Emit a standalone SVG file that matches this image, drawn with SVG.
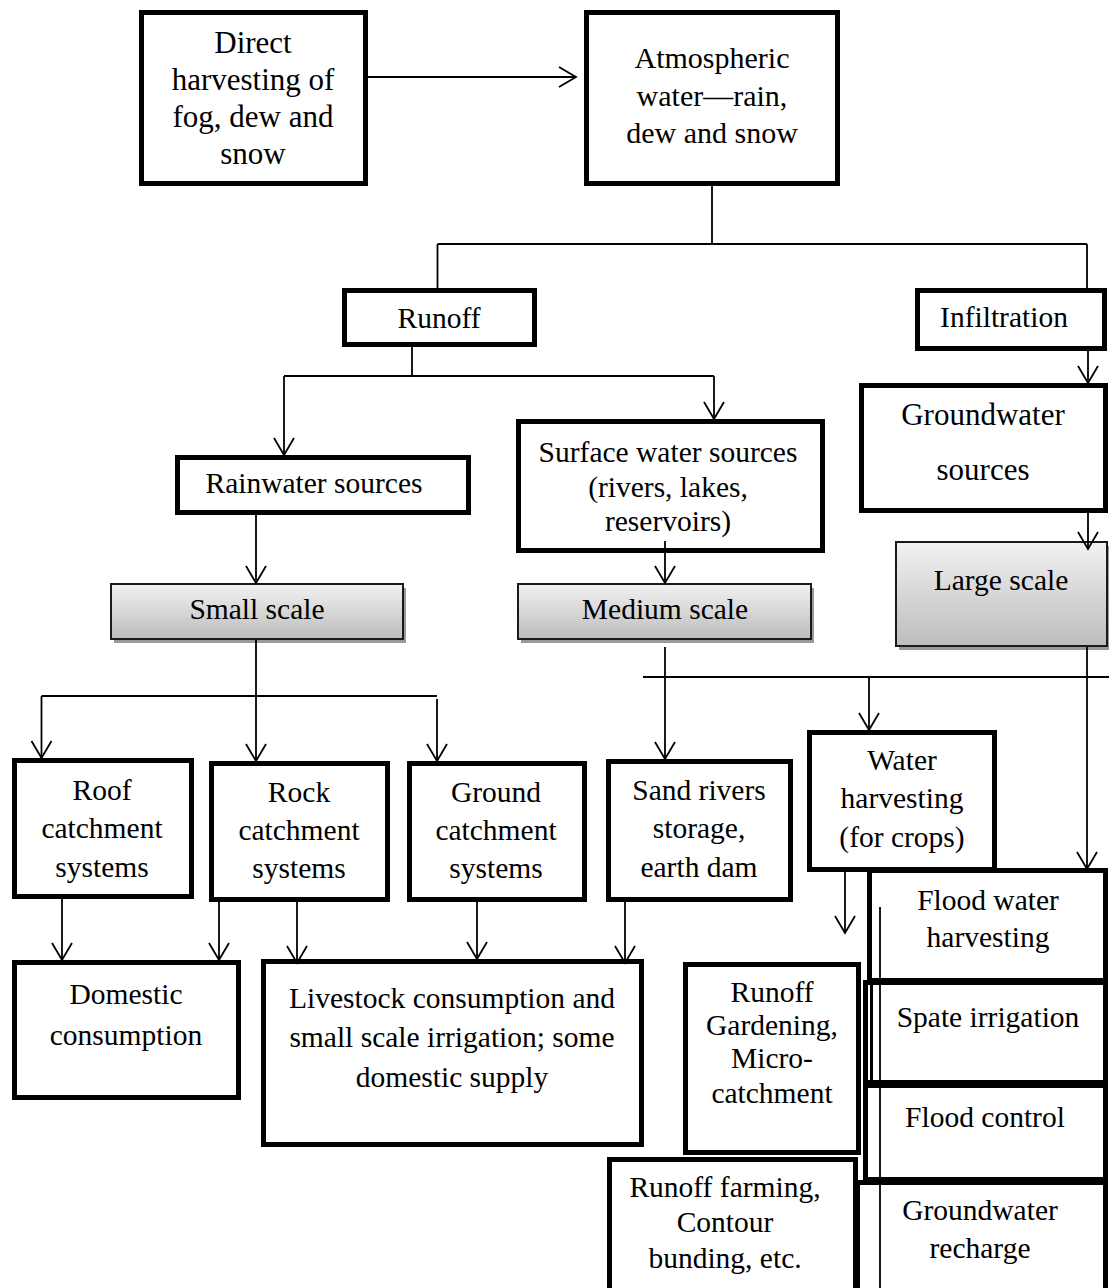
<svg xmlns="http://www.w3.org/2000/svg" width="1109" height="1288" viewBox="0 0 1109 1288">
  <style>
    .box { fill: #ffffff; stroke: #000000; stroke-width: 5; }
    .scale { fill: url(#scaleFill); stroke: #1a1a1a; stroke-width: 2; }
    .shadow { fill: #9a9a9a; }
    .t { font-family: "Liberation Serif", "Times New Roman", serif; font-size: 29.5px; fill: #000000; text-anchor: middle; }
    .big { font-size: 31px; }
    .wire { fill: none; stroke: #000000; stroke-width: 1.8; }
    .arrow { marker-end: url(#open); }
  </style>
  <defs>
    <linearGradient id="scaleFill" x1="0" y1="0" x2="0" y2="1">
      <stop offset="0" stop-color="#f2f2f2"/>
      <stop offset="1" stop-color="#bcbcbc"/>
    </linearGradient>
    <marker id="open" markerUnits="userSpaceOnUse" markerWidth="22" markerHeight="24" refX="18" refY="11" orient="auto">
      <path d="M1,1 L18,11 L1,21" fill="none" stroke="#000000" stroke-width="1.8"/>
    </marker>
  </defs>

  <!-- top level -->
  <g id="direct-harvesting">
    <rect class="box" x="141.5" y="12.5" width="224" height="171"/>
    <text class="t big" x="253" y="53">Direct</text>
    <text class="t big" x="253" y="90">harvesting of</text>
    <text class="t big" x="253" y="127">fog, dew and</text>
    <text class="t big" x="253" y="164">snow</text>
  </g>
  <g id="atmospheric-water">
    <rect class="box" x="586.5" y="12.5" width="251" height="171"/>
    <text class="t" x="712" y="68" style="font-size:30px">Atmospheric</text>
    <text class="t" x="712" y="106" style="font-size:30px">water—rain,</text>
    <text class="t" x="712" y="143" style="font-size:30px">dew and snow</text>
  </g>

  <!-- runoff / infiltration -->
  <g id="runoff">
    <rect class="box" x="344.5" y="290.5" width="190" height="54"/>
    <text class="t" x="439" y="328">Runoff</text>
  </g>
  <g id="infiltration">
    <rect class="box" x="917.5" y="290.5" width="187" height="58"/>
    <text class="t" x="1004" y="327">Infiltration</text>
  </g>

  <!-- sources -->
  <g id="rainwater-sources">
    <rect class="box" x="177.5" y="457.5" width="291" height="55"/>
    <text class="t" x="314" y="493">Rainwater sources</text>
  </g>
  <g id="surface-water-sources">
    <rect class="box" x="518.5" y="421.5" width="304" height="129"/>
    <text class="t" x="668" y="462">Surface water sources</text>
    <text class="t" x="668" y="497">(rivers, lakes,</text>
    <text class="t" x="668" y="531">reservoirs)</text>
  </g>
  <g id="groundwater-sources">
    <rect class="box" x="861.5" y="385.5" width="244" height="125"/>
    <text class="t big" x="983" y="425">Groundwater</text>
    <text class="t big" x="983" y="480">sources</text>
  </g>

  <!-- scale levels -->
  <g id="small-scale">
    <rect class="shadow" x="114" y="588" width="292" height="55"/>
    <rect class="scale" x="111" y="584" width="292" height="55"/>
    <text class="t" x="257" y="619">Small scale</text>
  </g>
  <g id="medium-scale">
    <rect class="shadow" x="521" y="588" width="293" height="55"/>
    <rect class="scale" x="518" y="584" width="293" height="55"/>
    <text class="t" x="665" y="619">Medium scale</text>
  </g>
  <g id="large-scale">
    <rect class="shadow" x="899" y="546" width="211" height="104"/>
    <rect class="scale" x="896" y="542" width="211" height="104"/>
    <text class="t" x="1001" y="590">Large scale</text>
  </g>

  <!-- systems -->
  <g id="roof-catchment">
    <rect class="box" x="14.5" y="760.5" width="177" height="136"/>
    <text class="t" x="102" y="800">Roof</text>
    <text class="t" x="102" y="838">catchment</text>
    <text class="t" x="102" y="877">systems</text>
  </g>
  <g id="rock-catchment">
    <rect class="box" x="211.5" y="763.5" width="176" height="136"/>
    <text class="t" x="299" y="802">Rock</text>
    <text class="t" x="299" y="840">catchment</text>
    <text class="t" x="299" y="878">systems</text>
  </g>
  <g id="ground-catchment">
    <rect class="box" x="409.5" y="763.5" width="175" height="136"/>
    <text class="t" x="496" y="802">Ground</text>
    <text class="t" x="496" y="840">catchment</text>
    <text class="t" x="496" y="878">systems</text>
  </g>
  <g id="sand-rivers">
    <rect class="box" x="608.5" y="761.5" width="182" height="138"/>
    <text class="t" x="699" y="800">Sand rivers</text>
    <text class="t" x="699" y="838">storage,</text>
    <text class="t" x="699" y="877">earth dam</text>
  </g>
  <g id="water-harvesting">
    <rect class="box" x="809.5" y="732.5" width="185" height="137"/>
    <text class="t" x="902" y="770">Water</text>
    <text class="t" x="902" y="808">harvesting</text>
    <text class="t" x="902" y="847">(for crops)</text>
  </g>

  <!-- uses -->
  <g id="domestic-consumption">
    <rect class="box" x="14.5" y="962.5" width="224" height="135"/>
    <text class="t" x="126" y="1004">Domestic</text>
    <text class="t" x="126" y="1045">consumption</text>
  </g>
  <g id="livestock-consumption">
    <rect class="box" x="263.5" y="961.5" width="378" height="183"/>
    <text class="t" x="452" y="1008">Livestock consumption and</text>
    <text class="t" x="452" y="1047">small scale irrigation; some</text>
    <text class="t" x="452" y="1087">domestic supply</text>
  </g>
  <g id="runoff-gardening">
    <rect class="box" x="685.5" y="964.5" width="173" height="188"/>
    <text class="t" x="772" y="1002">Runoff</text>
    <text class="t" x="772" y="1035">Gardening,</text>
    <text class="t" x="772" y="1068">Micro-</text>
    <text class="t" x="772" y="1103">catchment</text>
  </g>
  <g id="runoff-farming">
    <rect class="box" x="609.5" y="1159.5" width="246" height="140"/>
    <text class="t" x="725" y="1197">Runoff farming,</text>
    <text class="t" x="725" y="1232">Contour</text>
    <text class="t" x="725" y="1268">bunding, etc.</text>
  </g>
  <g id="flood-water-harvesting">
    <rect class="box" x="869.5" y="870.5" width="236" height="110"/>
    <text class="t" x="988" y="910">Flood water</text>
    <text class="t" x="988" y="947">harvesting</text>
  </g>
  <g id="spate-irrigation">
    <rect class="box" x="865.5" y="982.5" width="240" height="100"/>
    <path d="M871.5,983 V1083" stroke="#000000" stroke-width="3" fill="none"/>
    <text class="t" x="988" y="1027">Spate irrigation</text>
  </g>
  <g id="flood-control">
    <rect class="box" x="865.5" y="1085.5" width="240" height="94"/>
    <text class="t" x="985" y="1127">Flood control</text>
  </g>
  <g id="groundwater-recharge">
    <rect class="box" x="857.5" y="1182.5" width="248" height="110"/>
    <text class="t" x="980" y="1220">Groundwater</text>
    <text class="t" x="980" y="1258">recharge</text>
  </g>

  <!-- connectors -->
  <g id="connectors" class="wire">
    <path class="arrow" d="M368,77 H576"/>
    <path d="M712,186 V244 M437.5,244 H1087 M437.5,244 V288 M1087,244 V288"/>
    <path d="M412,347 V376 M284,376 H714"/>
    <path class="arrow" d="M284,376 V455"/>
    <path class="arrow" d="M714,376 V419"/>
    <path class="arrow" d="M1088,351 V383"/>
    <path class="arrow" d="M1088,513 V549"/>
    <path class="arrow" d="M256,515 V583"/>
    <path class="arrow" d="M665,541 V583"/>
    <path d="M256,640 V696 M41.5,696 H437"/>
    <path class="arrow" d="M41.5,696 V758"/>
    <path class="arrow" d="M256,696 V761"/>
    <path class="arrow" d="M437,699 V761"/>
    <path class="arrow" d="M665,647 V759"/>
    <path d="M643,677 H1109"/>
    <path class="arrow" d="M869,677 V730"/>
    <path class="arrow" d="M1087,647 V869"/>
    <path class="arrow" d="M845,872 V933"/>
    <path class="arrow" d="M62,899 V960"/>
    <path class="arrow" d="M219,902 V960"/>
    <path class="arrow" d="M297,902 V963"/>
    <path class="arrow" d="M477,897 V959"/>
    <path class="arrow" d="M625,902 V963"/>
    <path d="M880,907 V1288"/>
  </g>
</svg>
